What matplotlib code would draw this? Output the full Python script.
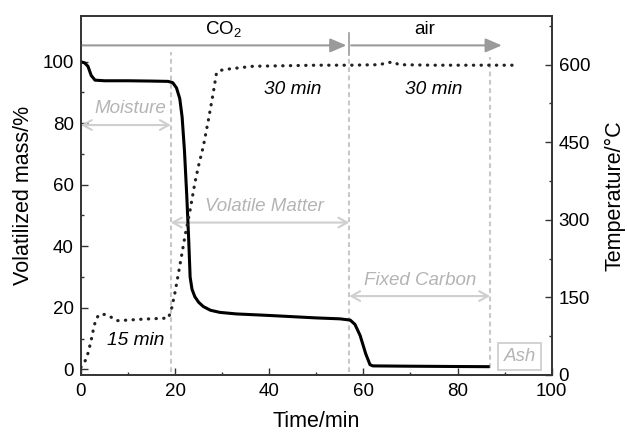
import numpy as np
import matplotlib.pyplot as plt

plt.rcParams['font.family'] = ['Liberation Sans', 'DejaVu Sans']
plt.rcParams['mathtext.fontset'] = 'custom'
plt.rcParams['mathtext.rm'] = 'Liberation Sans'
plt.rcParams['mathtext.it'] = 'Liberation Sans:italic'

# TGA run: mass loss (left axis) and furnace temperature (right axis)
t_mass = [0, 0.8, 1.5, 2.2, 3.0, 5, 10, 15, 18.5, 19.5, 20.3, 21.0, 21.5, 22.0,
          22.5, 22.9, 23.2, 23.6, 24.2, 25.0, 26.0, 27.5, 29.5, 33, 40, 45, 50,
          55, 57.2, 58.2, 59.3, 60.5, 61.4, 62.0, 70, 80, 86.5]
mass = [100, 99.6, 98.5, 95.5, 94.0, 93.8, 93.8, 93.7, 93.6, 93.2, 91.5, 88,
        82, 71, 56, 42, 30, 26, 23.6, 21.8, 20.4, 19.2, 18.5, 18.0, 17.5, 17.1,
        16.7, 16.4, 16.0, 14.6, 11, 5, 1.5, 1.1, 1.0, 0.9, 0.85]

t_temp = [0, 0.5, 1.1, 1.6, 2.2, 2.7, 3.2, 3.9, 5.1, 6.2, 7.6, 9.7, 13.3, 18.6,
          19.3, 20.0, 21.1, 22.1, 23.2, 24.2, 25.0, 26.0, 27.1, 28.1, 28.8,
          29.6, 31.7, 36.6, 43.7, 50, 57, 63.5, 65, 66.5, 67.5, 75, 85, 93]
temp = [15, 22, 30, 45, 68, 90, 108, 117, 117, 113, 105, 106, 108, 110, 130,
        160, 216, 268, 319, 371, 405, 442, 494, 545, 584, 589, 592, 597, 598,
        599, 599, 600, 604, 605, 600, 599, 599, 599]

# stage boundaries (min)
t_dry_end = 19.1
t_co2_end = 57.0
t_end = 86.9

fig = plt.figure(figsize=(6.27, 4.32), dpi=100)
ax = fig.add_axes([0.129, 0.132, 0.751, 0.832])
ax2 = ax.twinx()

ax.plot(t_mass, mass, color='black', lw=2.2, zorder=5)
ax2.plot(t_temp, temp, color='#222222', lw=2.3,
         linestyle=(0, (0.1, 2.3)), dash_capstyle='round', zorder=5)

ax.set_xlim(0, 100)
ax.set_ylim(-1.85, 115)
ax2.set_ylim(0, 695)

dash_col = '#c8c8c8'
ax.plot([t_dry_end, t_dry_end], [-1.0, 103.2], color=dash_col, lw=1.5,
        linestyle=(0, (2.3, 1.7)))
ax.plot([t_co2_end, t_co2_end], [-1.0, 101.6], color=dash_col, lw=1.5,
        linestyle=(0, (2.3, 1.7)))
ax.plot([t_end, t_end], [0.5, 101.6], color=dash_col, lw=1.5,
        linestyle=(0, (2.3, 1.7)))

# atmosphere arrows along the top
top_col = '#9a9a9a'
ax.annotate('', xy=(56.4, 105.3), xytext=(0, 105.3),
            arrowprops=dict(arrowstyle='-|>,head_length=0.7,head_width=0.3',
                            color=top_col, lw=1.5, mutation_scale=14,
                            shrinkA=0, shrinkB=0))
ax.annotate('', xy=(89.4, 105.3), xytext=(57.4, 105.3),
            arrowprops=dict(arrowstyle='-|>,head_length=0.7,head_width=0.3',
                            color=top_col, lw=1.5, mutation_scale=14,
                            shrinkA=0, shrinkB=0))
ax.plot([57.0, 57.0], [102.2, 109.3], color=top_col, lw=1.2)
ax.text(30.2, 110.5, 'CO$_2$', ha='center', va='center', fontsize=13.5)
ax.text(73, 110.5, 'air', ha='center', va='center', fontsize=13.5)

# stage annotations
ann_col = '#cfcfcf'
txt_col = '#b4b4b4'
stages = [(0, t_dry_end, 79.4, 'Moisture', 10.5, 84.9),
          (t_dry_end, t_co2_end, 47.7, 'Volatile Matter', 38.9, 52.9),
          (t_co2_end, t_end, 23.8, 'Fixed Carbon', 72.0, 29.0)]
for x0, x1, ya, label, xt, yt in stages:
    ax.annotate('', xy=(x1, ya), xytext=(x0, ya),
                arrowprops=dict(arrowstyle='<->,head_length=0.45,head_width=0.25',
                                color=ann_col, lw=1.5, mutation_scale=14,
                                shrinkA=0, shrinkB=0))
    ax.text(xt, yt, label, ha='center', va='center', fontsize=13.5,
            style='italic', color=txt_col)

ax.text(93.2, 4.1, 'Ash', ha='center', va='center', fontsize=13.5,
        style='italic', color=txt_col,
        bbox=dict(boxstyle='square,pad=0.28', fc='white', ec=ann_col, lw=1.3))

ax.text(11.7, 9.2, '15 min', ha='center', va='center', fontsize=13.8, style='italic')
ax.text(44.9, 90.8, '30 min', ha='center', va='center', fontsize=13.8, style='italic')
ax.text(74.9, 90.8, '30 min', ha='center', va='center', fontsize=13.8, style='italic')

ax.set_xticks(np.arange(0, 101, 20))
ax.set_xticks(np.arange(0, 101, 10), minor=True)
ax.set_yticks(np.arange(0, 101, 20))
ax.set_yticks(np.arange(0, 101, 10), minor=True)
ax2.set_yticks(np.arange(0, 601, 150))
ax2.set_yticks(np.arange(0, 676, 75), minor=True)

for a in (ax, ax2):
    a.tick_params(which='major', direction='in', length=5, width=1, labelsize=13.5,
                  color='#333333')
    a.tick_params(which='minor', direction='in', length=2.5, width=1,
                  color='#333333')
    for s in a.spines.values():
        s.set_color('#333333')
        s.set_linewidth(1.2)
ax.tick_params(axis='x', pad=6)
ax.tick_params(axis='y', pad=5)
ax2.tick_params(axis='y', pad=5)

ax.set_xlabel('Time/min', fontsize=15.5, labelpad=8)
ax.set_ylabel('Volatilized mass/%', fontsize=15.5, labelpad=6)
ax2.set_ylabel('Temperature/°C', fontsize=15.5, labelpad=10)

plt.savefig('out.png', dpi=100)
